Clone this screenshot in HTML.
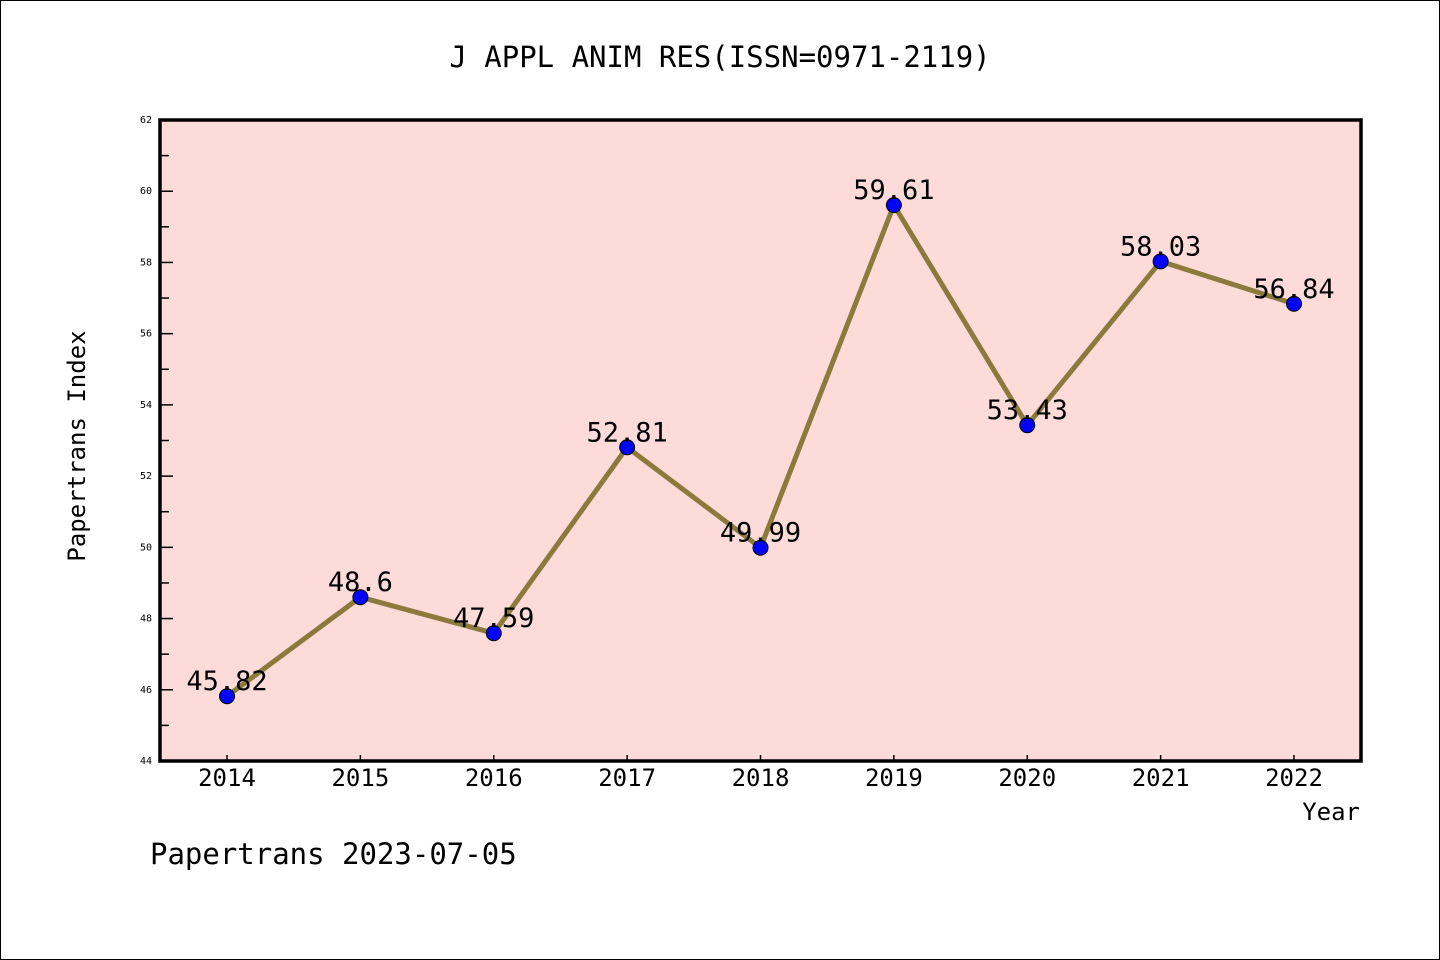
<!DOCTYPE html>
<html><head><meta charset="utf-8"><style>
html,body{margin:0;padding:0;background:#fff}
svg{display:block}
text{font-family:"DejaVu Sans Mono","Liberation Mono",monospace}
</style></head><body>
<svg width="1440" height="960" xmlns="http://www.w3.org/2000/svg">
<rect x="0.5" y="0.5" width="1439" height="959" fill="#fff" stroke="#000"/>
<text x="720" y="67" font-size="29" text-anchor="middle">J APPL ANIM RES(ISSN=0971-2119)</text>
<rect x="160" y="120" width="1201" height="641" fill="#fddbd8"/>
<g id="yticks"></g><g id="xticks"></g>
<g id="series"></g>
<rect x="160" y="120" width="1201" height="641" fill="none" stroke="#000" stroke-width="3.5"/>
<text x="85" y="446" font-size="24" text-anchor="middle" transform="rotate(-90 85 446)">Papertrans Index</text>
<text x="1360" y="820" font-size="24" text-anchor="end">Year</text>
<text x="150" y="864" font-size="29">Papertrans 2023-07-05</text>
</svg>
<script>
const years=["2014","2015","2016","2017","2018","2019","2020","2021","2022"];
const values=[45.82,48.6,47.59,52.81,49.99,59.61,53.43,58.03,56.84];
const labels=["45.82","48.6","47.59","52.81","49.99","59.61","53.43","58.03","56.84"];
const yTicks=[44,46,48,50,52,54,56,58,60,62];
const NS="http://www.w3.org/2000/svg";
const yMin=44,yMax=62,yTop=120,yBot=761;
function ys(v){return yBot-(v-yMin)/(yMax-yMin)*(yBot-yTop);}
function xs(i){return 227+i*(1294-227)/(years.length-1);}
function mk(t,a,p){const e=document.createElementNS(NS,t);for(const k in a)e.setAttribute(k,a[k]);p.appendChild(e);return e;}
const yg=document.getElementById('yticks');
yTicks.forEach((v,i)=>{
 const l=mk('line',{x1:160,x2:173,y1:ys(v),y2:ys(v),stroke:'#000','stroke-width':1.5},yg);
 
 
 const t=mk('text',{x:152,y:ys(v)+3,'font-size':10,'text-anchor':'end'},yg);t.textContent=v;
 
 
 if(i<yTicks.length-1){const m=mk('line',{x1:160,x2:169,y1:ys(v+1),y2:ys(v+1),stroke:'#000','stroke-width':1.5},yg);
 
 }
});
const xg=document.getElementById('xticks');
years.forEach((y,i)=>{
 const l=mk('line',{x1:xs(i),x2:xs(i),y1:755,y2:761,stroke:'#000','stroke-width':1.5},xg);
 
 
 const t=mk('text',{x:xs(i),y:786,'font-size':24,'text-anchor':'middle'},xg);t.textContent=y;
 
 
});
const sg=document.getElementById('series');
const pl=mk('polyline',{points:values.map((v,i)=>xs(i)+','+ys(v)).join(' '),fill:'none',stroke:'#8c7a3c','stroke-width':5,'stroke-linejoin':'round'},sg);


values.forEach((v,i)=>{
 const c=mk('circle',{cx:xs(i),cy:ys(v),r:7.5,fill:'#0000ff',stroke:'#000','stroke-width':1},sg);
 
 
});
values.forEach((v,i)=>{
 const t=mk('text',{x:xs(i),y:ys(v)-6,'font-size':27,'text-anchor':'middle'},sg);t.textContent=labels[i];
 
 
});
</script>
</body></html>
